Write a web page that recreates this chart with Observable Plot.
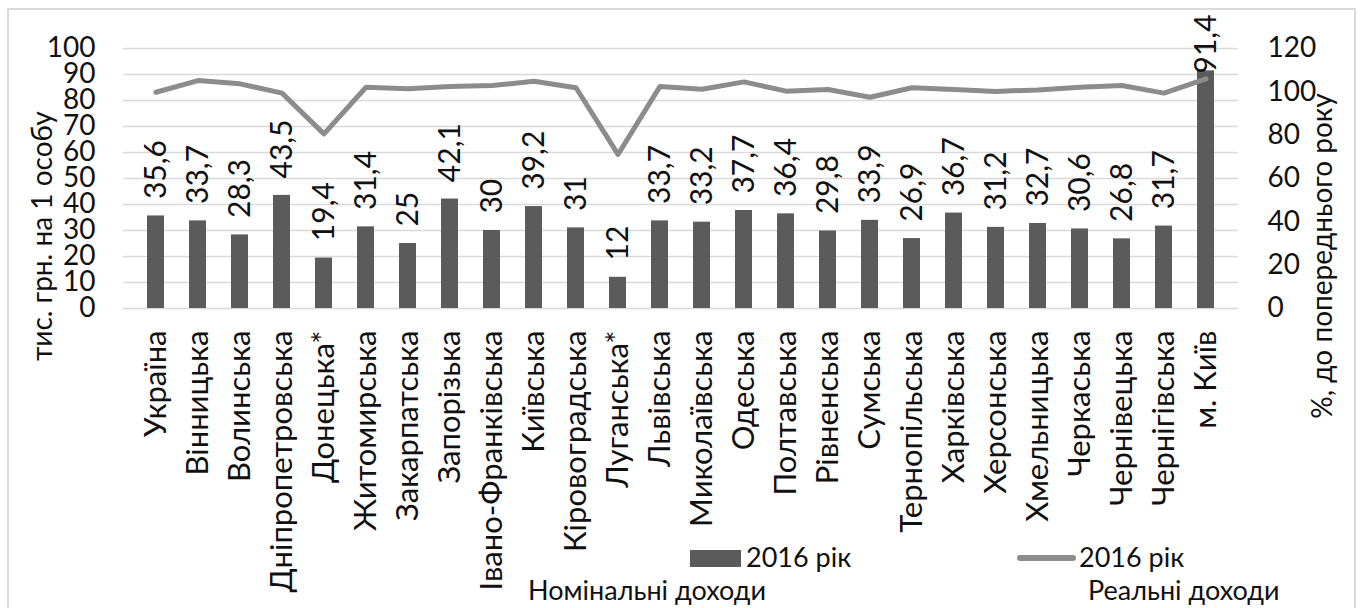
<!DOCTYPE html>
<html><head><meta charset="utf-8">
<script src="https://cdn.jsdelivr.net/npm/d3@7"></script>
<script src="https://cdn.jsdelivr.net/npm/@observablehq/plot@0.6"></script>
<style>
body{margin:0;background:#fff;}
#wrap{position:relative;width:1360px;height:608px;overflow:hidden;font-family:Lato,sans-serif;}
#frame{position:absolute;left:7px;top:8px;width:1349px;height:660px;border:2px solid #d9d9d9;box-sizing:border-box;pointer-events:none;}
</style></head><body><div id="wrap"></div>
<script>
const regions = ["Україна","Вінницька","Волинська","Дніпропетровська","Донецька*","Житомирська","Закарпатська","Запорізька","Івано-Франківська","Київська","Кіровоградська","Луганська*","Львівська","Миколаївська","Одеська","Полтавська","Рівненська","Сумська","Тернопільська","Харківська","Херсонська","Хмельницька","Черкаська","Чернівецька","Чернігівська","м. Київ"];
const nominal = [35.6,33.7,28.3,43.5,19.4,31.4,25,42.1,30,39.2,31,12,33.7,33.2,37.7,36.4,29.8,33.9,26.9,36.7,31.2,32.7,30.6,26.8,31.7,91.4];
const real = [99.8,105.2,103.7,99.4,80.6,102.1,101.4,102.5,102.9,104.9,101.9,71.1,102.5,101.2,104.6,100.3,101.1,97.5,101.9,101.1,100.2,100.9,102.1,102.9,99.4,106.0];
const leftTicks = [0,10,20,30,40,50,60,70,80,90,100];
const rightTicks = [0,20,40,60,80,100,120];
const leftTitle = "тис. грн. на 1 особу";
const rightTitle = "%, до попереднього року";
const legendBar = "2016 рік";
const legendLine = "2016 рік";
const captionBar = "Номінальні доходи";
const captionLine = "Реальні доходи";

const K = 100 / 120; // right axis (0–120) mapped onto left axis (0–100)
const rows = regions.map((r, i) => ({region: r, nominal: nominal[i], real: real[i]}));
const fmt = v => String(v).replace(".", ",");

const BAR = "#5b5b5b", LINE = "#8c8c8c", GRID = "#d9d9d9", TXT = "#111";

const svg = Plot.plot({
  width: 1360, height: 608,
  marginLeft: 123, marginRight: 122, marginTop: 48, marginBottom: 300,
  style: {fontFamily: "Lato, sans-serif", background: "transparent", color: TXT},
  x: {domain: regions, paddingInner: 0.59, paddingOuter: 0.295, label: null},
  y: {domain: [0, 100], label: null},
  marks: [
    Plot.ruleY(leftTicks, {stroke: GRID, strokeWidth: 1.6}),
    Plot.barY(rows, {x: "region", y: "nominal", fill: BAR}),
    Plot.line(rows, {x: "region", y: d => d.real * K, stroke: LINE, strokeWidth: 5, strokeLinejoin: "round", strokeLinecap: "round"}),
    Plot.text(rows, {x: "region", y: d => Math.min(d.nominal + 6.5, 90.4), text: d => fmt(d.nominal), rotate: -90, textAnchor: "start", fontSize: 30, fill: TXT}),
    Plot.axisY({anchor: "left", ticks: leftTicks, tickSize: 0, tickPadding: 28, fontSize: 28, label: null}),
    Plot.axisY({anchor: "right", ticks: rightTicks.map(v => v * K), tickFormat: v => Math.round(v / K), tickSize: 0, tickPadding: 29, fontSize: 28, label: null}),
    Plot.axisX({tickRotate: -90, tickSize: 0, tickPadding: 22, fontSize: 31, label: null})
  ]
});

const s = d3.select(svg);
const g = s.append("g").attr("font-family", "Lato, sans-serif").attr("fill", TXT).attr("text-anchor", "start");
g.append("text").attr("transform", "translate(42,236) rotate(-90)").attr("text-anchor", "middle").attr("dy", "0.35em").attr("font-size", 28).text(leftTitle);
g.append("text").attr("transform", "translate(1322,256) rotate(-90)").attr("text-anchor", "middle").attr("dy", "0.35em").attr("font-size", 28).text(rightTitle);
// legend
g.append("rect").attr("x", 690).attr("y", 550).attr("width", 51).attr("height", 17).attr("fill", BAR);
g.append("text").attr("x", 746).attr("y", 567).attr("font-size", 27).text(legendBar);
g.append("line").attr("x1", 1020).attr("x2", 1073).attr("y1", 558).attr("y2", 558).attr("stroke", LINE).attr("stroke-width", 6).attr("stroke-linecap", "round");
g.append("text").attr("x", 1079).attr("y", 567).attr("font-size", 27).text(legendLine);
g.append("text").attr("x", 528).attr("y", 600).attr("font-size", 27).text(captionBar);
g.append("text").attr("x", 1088).attr("y", 600).attr("font-size", 27).text(captionLine);

const wrap = document.getElementById("wrap");
wrap.appendChild(svg);
const fr = document.createElement("div"); fr.id = "frame"; wrap.appendChild(fr);
</script>
</body></html>
